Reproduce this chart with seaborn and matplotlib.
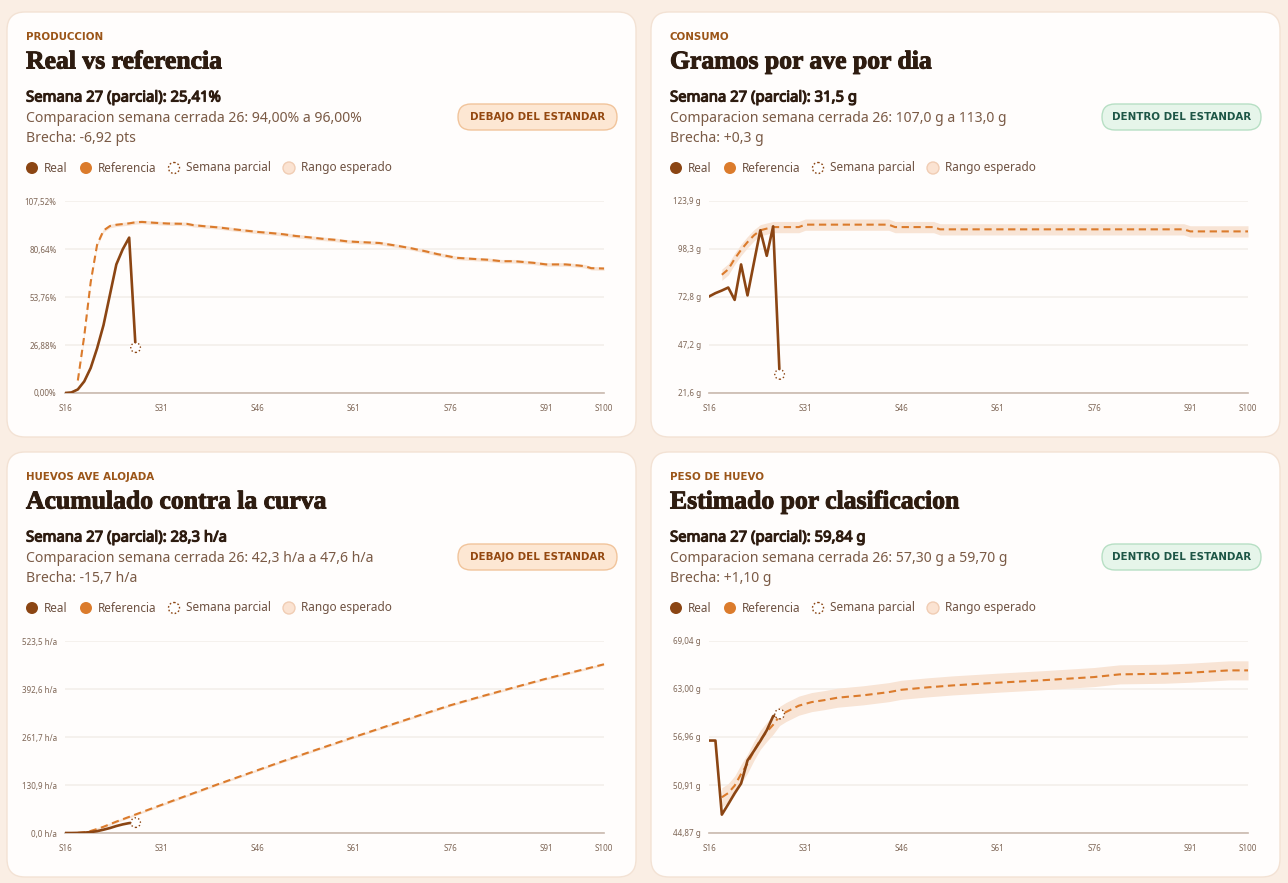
import numpy as np
import matplotlib.pyplot as plt
import matplotlib.patheffects as pe
import seaborn as sns
from matplotlib.patches import FancyBboxPatch, Circle

##########################
### Data ###
##########################
real_weeks = list(range(16, 28))
partial_week = 27

# produccion (%)
prod_real = [0, 0.3, 2, 6.5, 14, 25, 38, 55, 72, 80.5, 87, 25.41]
prod_ref_weeks = [18, 19, 20, 21, 22, 23, 24, 25, 26, 27, 28, 30, 32, 35, 36, 38, 40, 42, 44, 46,
                  48, 50, 52, 54, 56, 58, 60, 62, 65, 68, 70, 72, 74, 77, 80, 82, 84, 86, 88, 89,
                  91, 94, 96, 97, 98, 100]
prod_ref = [7, 32, 62, 83, 91, 93.5, 94.2, 94.6, 95, 95.6, 95.8, 95.3, 94.9, 94.7, 94.0, 93.3, 92.7, 91.8, 91.0, 90.2,
            89.6, 88.9, 87.9, 87.2, 86.4, 85.8, 84.9, 84.5, 84.0, 82.3, 81.0, 79.5, 77.8, 75.7, 75.0, 74.6, 73.8, 73.8, 73.2, 72.9,
            72.0, 72.0, 71.4, 71.0, 69.9, 69.7]
prod_band = 1.0

# consumo (g/ave/dia)
cons_real = [73.0, 74.8, 76.2, 77.8, 71.2, 90.1, 73.6, 91.0, 108.3, 94.7, 110.4, 31.5]
cons_ref_weeks = [18, 19, 20, 21, 22, 23, 24, 25, 26, 30, 31, 44, 45, 51, 52, 90, 91, 100]
cons_ref = [84.6, 87.5, 93.1, 97.9, 102.0, 105.6, 108.3, 109.2, 110.0, 110.0, 111.3, 111.3, 110.0, 110.0,
            108.8, 108.8, 107.7, 107.7]
cons_band = 3.0

# huevos ave alojada (acumulado)
hue_real = [0, 0, 0.3, 1, 2.5, 5, 9, 13.5, 19, 23.5, 27, 28.3]
hue_ref_weeks = [18, 19, 20, 21, 22, 23, 24, 25, 26, 30, 35, 40, 45, 50, 55, 61, 66, 71, 76, 81, 86, 91, 96, 100]
hue_ref = [0.3, 2, 5.5, 11, 17, 24, 31, 37.5, 44, 70, 102, 134, 165, 196, 226, 261.4, 290.5, 319.5, 348, 373,
           397, 420.8, 442.5, 460]
hue_band = 3.0

# peso de huevo (g)
peso_real = [56.51, 56.51, 47.18, 48.5, 49.87, 51.1, 54.0, 55.2, 56.45, 57.8, 59.58, 59.84]
peso_ref_weeks = [18, 19, 20, 21, 22, 23, 24, 25, 26, 27, 28, 29, 30, 32, 34, 36, 40, 44, 46, 50, 54,
                  61, 68, 76, 80, 87, 91, 97, 100]
peso_ref = [49.37, 49.9, 50.84, 52.3, 53.6, 55.2, 56.6, 57.6, 58.5, 59.6, 60.1, 60.5, 60.9, 61.35, 61.6,
            61.9, 62.2, 62.6, 62.9, 63.2, 63.45, 63.79, 64.1, 64.5, 64.84, 64.92, 65.05, 65.34, 65.34]
peso_band = 1.2

x_ticks = [16, 31, 46, 61, 76, 91, 100]
x_labels = ["S16", "S31", "S46", "S61", "S76", "S91", "S100"]

prod_yticks = [0, 26.88, 53.76, 80.64, 107.52]
prod_ylabels = ["0,00%", "26,88%", "53,76%", "80,64%", "107,52%"]
cons_yticks = [21.6, 47.175, 72.75, 98.325, 123.9]
cons_ylabels = ["21,6 g", "47,2 g", "72,8 g", "98,3 g", "123,9 g"]
hue_yticks = [0, 130.875, 261.75, 392.625, 523.5]
hue_ylabels = ["0,0 h/a", "130,9 h/a", "261,7 h/a", "392,6 h/a", "523,5 h/a"]
peso_yticks = [44.87, 50.91, 56.96, 63.00, 69.04]
peso_ylabels = ["44,87 g", "50,91 g", "56,96 g", "63,00 g", "69,04 g"]

legend_labels = ["Real", "Referencia", "Semana parcial", "Rango esperado"]

panels = [
    dict(kicker="PRODUCCION", title="Real vs referencia",
         head="Semana 27 (parcial): 25,41%",
         comp="Comparacion semana cerrada 26: 94,00% a 96,00%",
         gap="Brecha: -6,92 pts", badge="DEBAJO DEL ESTANDAR", ok=False,
         real=prod_real, rw=prod_ref_weeks, ref=prod_ref, band=prod_band,
         yt=prod_yticks, yl=prod_ylabels, card=(7, 12)),
    dict(kicker="CONSUMO", title="Gramos por ave por dia",
         head="Semana 27 (parcial): 31,5 g",
         comp="Comparacion semana cerrada 26: 107,0 g a 113,0 g",
         gap="Brecha: +0,3 g", badge="DENTRO DEL ESTANDAR", ok=True,
         real=cons_real, rw=cons_ref_weeks, ref=cons_ref, band=cons_band,
         yt=cons_yticks, yl=cons_ylabels, card=(651, 12)),
    dict(kicker="HUEVOS AVE ALOJADA", title="Acumulado contra la curva",
         head="Semana 27 (parcial): 28,3 h/a",
         comp="Comparacion semana cerrada 26: 42,3 h/a a 47,6 h/a",
         gap="Brecha: -15,7 h/a", badge="DEBAJO DEL ESTANDAR", ok=False,
         real=hue_real, rw=hue_ref_weeks, ref=hue_ref, band=hue_band,
         yt=hue_yticks, yl=hue_ylabels, card=(7, 452)),
    dict(kicker="PESO DE HUEVO", title="Estimado por clasificacion",
         head="Semana 27 (parcial): 59,84 g",
         comp="Comparacion semana cerrada 26: 57,30 g a 59,70 g",
         gap="Brecha: +1,10 g", badge="DENTRO DEL ESTANDAR", ok=True,
         real=peso_real, rw=peso_ref_weeks, ref=peso_ref, band=peso_band,
         yt=peso_yticks, yl=peso_ylabels, card=(651, 452)),
]

##########################
### Style ###############
##########################
sns.set_theme(style="white")
plt.rcParams['font.family'] = ['Noto Sans', 'DejaVu Sans']

C_REAL = '#8B4513'
C_REF = '#DB7B2C'
C_BAND = '#F8E4D5'
C_DARK = '#2E1C10'
C_MUTED = '#7A5A45'
C_KICK = '#9B5518'
C_TICK = '#7E6656'
C_AXIS = '#C9B9AE'
C_GRID = '#F4EFEB'

W, H = 1288, 883
fig = plt.figure(figsize=(W / 100, H / 100), dpi=100)
fig.patch.set_facecolor('#FAEEE4')

bg = fig.add_axes([0, 0, 1, 1])
bg.set_xlim(0, W)
bg.set_ylim(H, 0)
bg.axis('off')

heavy = [pe.withStroke(linewidth=0.7, foreground=C_DARK)]
semi = [pe.withStroke(linewidth=0.8, foreground=C_DARK)]

for p in panels:
    cx, cy = p['card']
    # card
    bg.add_patch(FancyBboxPatch((cx, cy), 629, 425, boxstyle="round,pad=0,rounding_size=18",
                                facecolor='#FFFDFC', edgecolor='#F3E2D4', lw=1))
    # header texts
    bg.text(cx + 19, cy + 25, p['kicker'], fontsize=7.4, weight='bold', color=C_KICK,
            family='DejaVu Sans', va='center', ha='left')
    bg.text(cx + 19, cy + 50, p['title'], fontsize=18.5, weight='bold', color=C_DARK,
            family='Liberation Serif', va='center', ha='left', path_effects=heavy)
    bg.text(cx + 19, cy + 86, p['head'], fontsize=10.7, color=C_DARK,
            va='center', ha='left', path_effects=semi)
    bg.text(cx + 19, cy + 106, p['comp'], fontsize=10.1, color=C_MUTED, va='center', ha='left')
    bg.text(cx + 19, cy + 126, p['gap'], fontsize=10.1, color=C_MUTED, va='center', ha='left')

    # badge
    if p['ok']:
        bfc, bec, btc = '#E6F5EA', '#B7DFC4', '#1D5646'
    else:
        bfc, bec, btc = '#FDE7D3', '#F1C49B', '#944810'
    bx, by = cx + 451, cy + 92
    bg.add_patch(FancyBboxPatch((bx, by), 159, 26, boxstyle="round,pad=0,rounding_size=13",
                                facecolor=bfc, edgecolor=bec, lw=1))
    bg.text(bx + 79.5, by + 13.5, p['badge'], fontsize=7.4, weight='bold', color=btc,
            family='DejaVu Sans', ha='center', va='center')

    # legend row
    ly = cy + 156
    lx = [cx + 25, cx + 79, cx + 167, cx + 282]
    bg.add_patch(Circle((lx[0], ly), 6, facecolor=C_REAL, edgecolor='none'))
    bg.add_patch(Circle((lx[1], ly), 6, facecolor=C_REF, edgecolor='none'))
    bg.add_patch(Circle((lx[2], ly), 5.5, facecolor='white', edgecolor=C_REAL, lw=1, linestyle=(0, (1.2, 1.5))))
    bg.add_patch(Circle((lx[3], ly), 6, facecolor='#FBE3D2', edgecolor='#F1CDB4', lw=1))
    for x, lab in zip(lx, legend_labels):
        bg.text(x + 12, ly, lab, fontsize=8.5, color='#6E5242', va='center', ha='left')

    # chart axes
    ax = fig.add_axes([(cx + 58) / W, (H - (cy + 381)) / H, 539 / W, 192 / H])
    ax.set_facecolor('none')
    ax.fill_between(p['rw'], np.array(p['ref']) - p['band'], np.array(p['ref']) + p['band'],
                    color=C_BAND, lw=0, zorder=1)
    sns.lineplot(x=p['rw'], y=p['ref'], ax=ax, color=C_REF, linewidth=1.5,
                 linestyle=(0, (3.5, 2.2)), zorder=3)
    sns.lineplot(x=real_weeks, y=p['real'], ax=ax, color=C_REAL, linewidth=1.9, zorder=4)
    ax.scatter([partial_week], [p['real'][-1]], s=48, facecolor='white', edgecolor=C_REAL,
               linewidths=1, linestyles=':', zorder=5, clip_on=False)

    ax.set_xlim(16, 100)
    ax.set_ylim(p['yt'][0], p['yt'][-1])
    ax.set_xticks(x_ticks)
    ax.set_xticklabels(x_labels)
    ax.set_yticks(p['yt'])
    ax.set_yticklabels(p['yl'])
    ax.grid(axis='y', color=C_GRID, lw=1.2)
    ax.grid(axis='x', visible=False)
    ax.set_axisbelow(True)
    for s in ['top', 'right', 'left']:
        ax.spines[s].set_visible(False)
    ax.spines['bottom'].set_color(C_AXIS)
    ax.spines['bottom'].set_linewidth(1.2)
    ax.tick_params(axis='x', length=4, width=1, color=C_AXIS, pad=4, labelsize=5.8, labelcolor=C_TICK)
    ax.tick_params(axis='y', length=0, pad=6, labelsize=5.8, labelcolor=C_TICK)
    ax.set_xlabel('')
    ax.set_ylabel('')

plt.savefig('out.png', dpi=100, facecolor=fig.get_facecolor())
